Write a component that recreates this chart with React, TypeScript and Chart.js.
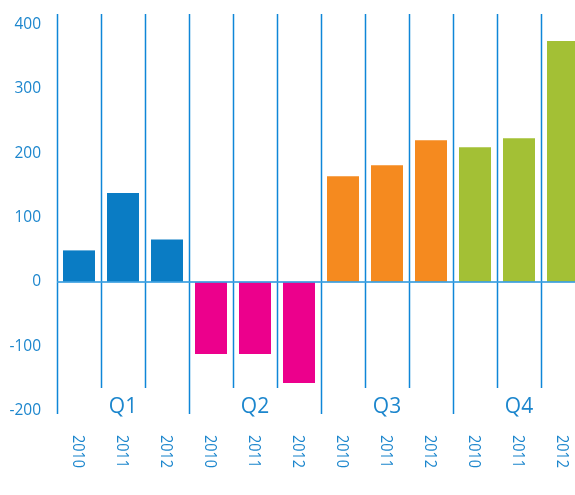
import React, { useEffect, useRef } from "react";
import { Chart, registerables } from "chart.js";

Chart.register(...registerables);

const years = ["2010", "2011", "2012"];
const quarters = ["Q1", "Q2", "Q3", "Q4"];
const q1Values = [49, 138, 66];
const q2Values = [-112, -112, -157];
const q3Values = [164, 181, 220];
const q4Values = [209, 223, 374];
const quarterColors = ["#0a7cc4", "#ec008c", "#f58a1f", "#a3c035"];
const yTicks = [-200, -100, 0, 100, 200, 300, 400];

const TEXT_COLOR = "#1c86cd";
const LINE_COLOR = "#0f86d8";
const FONT = "'Open Sans', 'Noto Sans', sans-serif";

export default function App() {
  const ref = useRef<HTMLCanvasElement | null>(null);

  useEffect(() => {
    if (!ref.current) return;
    const labels: string[] = [];
    const values: number[] = [];
    const colors: string[] = [];
    const series = [q1Values, q2Values, q3Values, q4Values];
    quarters.forEach((q, qi) => {
      years.forEach((y, yi) => {
        labels.push(y);
        values.push(series[qi][yi]);
        colors.push(quarterColors[qi]);
      });
    });

    const decor = {
      id: "decor",
      beforeDatasetsDraw(chart: any) {
        const { ctx, chartArea } = chart;
        const x = chart.scales.x;
        const n = labels.length;
        const half = (x.getPixelForValue(1) - x.getPixelForValue(0)) / 2;
        ctx.save();
        ctx.strokeStyle = LINE_COLOR;
        ctx.lineWidth = 1.5;
        for (let i = 0; i < n; i++) {
          const px = Math.round(x.getPixelForValue(i) - half) + 0.5;
          const major = i % 3 === 0;
          const bottom = major ? chartArea.bottom : chartArea.bottom - 26;
          ctx.beginPath();
          ctx.moveTo(px, chartArea.top);
          ctx.lineTo(px, bottom);
          ctx.stroke();
        }
        ctx.restore();
      },
      afterDatasetsDraw(chart: any) {
        const { ctx, chartArea } = chart;
        const y = chart.scales.y;
        const x = chart.scales.x;
        const zy = y.getPixelForValue(0);
        ctx.save();
        ctx.strokeStyle = "rgba(60,160,225,0.85)";
        ctx.lineWidth = 2;
        ctx.beginPath();
        ctx.moveTo(chartArea.left, zy);
        ctx.lineTo(chartArea.right + 20, zy);
        ctx.stroke();

        // quarter labels
        ctx.fillStyle = TEXT_COLOR;
        ctx.font = `21px ${FONT}`;
        ctx.textAlign = "center";
        ctx.textBaseline = "alphabetic";
        quarters.forEach((q, qi) => {
          const cx = x.getPixelForValue(qi * 3 + 1);
          ctx.fillText(q, cx, chartArea.bottom - 1);
        });

        // year labels, rotated clockwise
        ctx.font = `17px ${FONT}`;
        labels.forEach((l, i) => {
          const cx = x.getPixelForValue(i);
          ctx.save();
          ctx.translate(cx, chartArea.bottom + 21);
          ctx.rotate(Math.PI / 2);
          ctx.scale(0.85, 1);
          ctx.textAlign = "left";
          ctx.textBaseline = "alphabetic";
          ctx.fillText(l, 0, 6);
          ctx.restore();
        });
        ctx.restore();
      },
    };

    const chart = new Chart(ref.current, {
      type: "bar",
      data: {
        labels,
        datasets: [
          {
            data: values,
            backgroundColor: colors,
            borderWidth: 0,
            barPercentage: 32 / 44,
            categoryPercentage: 1,
          },
        ],
      },
      options: {
        animation: false,
        responsive: false,
        maintainAspectRatio: false,
        layout: { padding: { top: 14, bottom: 81, right: 15, left: 0 } },
        plugins: {
          legend: { display: false },
          tooltip: { enabled: false },
        },
        scales: {
          x: {
            display: false,
            offset: true,
          },
          y: {
            min: -205,
            max: 416,
            afterBuildTicks: (scale: any) => {
              scale.ticks = yTicks.map((v) => ({ value: v }));
            },
            afterFit: (scale: any) => {
              scale.width = 57;
              scale.paddingTop = 0;
              scale.paddingBottom = 0;
            },
            grid: { display: false, drawTicks: false },
            border: { display: false },
            ticks: {
              color: TEXT_COLOR,
              padding: 16,
              font: { family: FONT, size: 15.5 },
            },
          },
        },
      },
      plugins: [decor],
    });
    return () => chart.destroy();
  }, []);

  return (
    <div
      style={{
        position: "fixed",
        left: 0,
        top: 0,
        width: 575,
        height: 495,
        overflow: "hidden",
        background: "#ffffff",
      }}
    >
      <canvas ref={ref} width={600} height={495} style={{ display: "block" }} />
    </div>
  );
}
